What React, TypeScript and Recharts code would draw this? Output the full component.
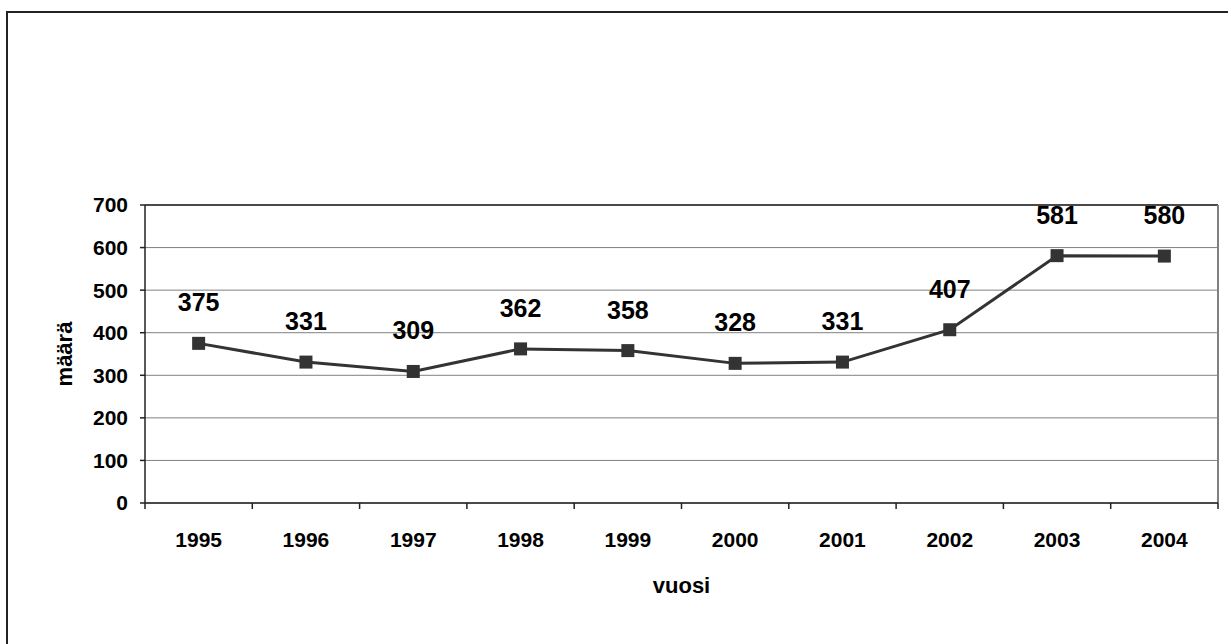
import React from "react";
import {
  LineChart,
  Line,
  XAxis,
  YAxis,
  CartesianGrid,
  ReferenceLine,
  LabelList,
  Label,
} from "recharts";

const years = ["1995", "1996", "1997", "1998", "1999", "2000", "2001", "2002", "2003", "2004"];
const counts = [375, 331, 309, 362, 358, 328, 331, 407, 581, 580];
const yTicks = [0, 100, 200, 300, 400, 500, 600, 700];

const FONT = '"Liberation Sans", Arial, sans-serif';

// points sit in the middle of each year slot, tick marks on the slot edges
const data = years.map((year, i) => ({ x: i + 0.5, year, value: counts[i] }));
const xTicks: number[] = [];
for (let i = 0; i <= years.length * 2; i++) xTicks.push(i / 2);

function XTick(props: any) {
  const { x, y, payload } = props;
  const v = payload.value as number;
  if (Number.isInteger(v)) {
    return <line x1={x} y1={y} x2={x} y2={y + 6} stroke="#222" strokeWidth={1.5} />;
  }
  const year = years[Math.floor(v)];
  return (
    <text
      x={x}
      y={y + 36}
      textAnchor="middle"
      dominantBaseline="central"
      fontFamily={FONT}
      fontWeight="bold"
      fontSize={21}
      fill="#000"
    >
      {year}
    </text>
  );
}

function SquareDot(props: any) {
  const { cx, cy, index } = props;
  if (cx == null || cy == null) return null;
  return <rect key={index} x={cx - 6.5} y={cy - 6.5} width={13} height={13} fill="#333" />;
}

function ValueLabel(props: any) {
  const { x, y, value } = props;
  return (
    <text
      x={x}
      y={y - 41}
      textAnchor="middle"
      dominantBaseline="central"
      fontFamily={FONT}
      fontWeight="bold"
      fontSize={25}
      fill="#000"
    >
      {value}
    </text>
  );
}

export default function App() {
  return (
    <div
      style={{
        position: "fixed",
        top: 0,
        left: 0,
        width: 1228,
        height: 644,
        overflow: "hidden",
        background: "#fff",
      }}
    >
      <div
        style={{
          position: "absolute",
          left: 6,
          top: 11,
          width: 1300,
          height: 700,
          borderTop: "2px solid #222",
          borderLeft: "2px solid #222",
        }}
      />
      <div style={{ position: "absolute", left: 0, top: 0 }}>
        <LineChart
          width={1228}
          height={644}
          data={data}
          margin={{ top: 205, right: 10, left: 0, bottom: 41 }}
        >
          <CartesianGrid vertical={false} stroke="#808080" strokeWidth={1} />
          <XAxis
            dataKey="x"
            type="number"
            domain={[0, 10]}
            ticks={xTicks}
            interval={0}
            height={100}
            tickSize={0}
            tickMargin={0}
            tickLine={false}
            axisLine={{ stroke: "#222", strokeWidth: 1.5 }}
            tick={<XTick />}
          >
            <Label
              content={({ viewBox }: any) => (
                <text
                  x={viewBox.x + viewBox.width / 2}
                  y={viewBox.y + 82}
                  textAnchor="middle"
                  dominantBaseline="central"
                  fontFamily={FONT}
                  fontWeight="bold"
                  fontSize={22}
                  fill="#000"
                >
                  vuosi
                </text>
              )}
            />
          </XAxis>
          <YAxis
            type="number"
            domain={[0, 700]}
            ticks={yTicks}
            interval={0}
            width={145}
            tickSize={5}
            tickMargin={12}
            tickLine={{ stroke: "#222", strokeWidth: 1.5 }}
            axisLine={{ stroke: "#222", strokeWidth: 1.5 }}
            tick={{ fill: "#000", fontFamily: FONT, fontWeight: "bold", fontSize: 21 }}
          >
            <Label
              content={({ viewBox }: any) => {
                const cx = 64;
                const cy = viewBox.y + viewBox.height / 2;
                return (
                  <text
                    x={cx}
                    y={cy}
                    transform={`rotate(-90, ${cx}, ${cy})`}
                    textAnchor="middle"
                    dominantBaseline="central"
                    fontFamily={FONT}
                    fontWeight="bold"
                    fontSize={22}
                    fill="#000"
                  >
                    määrä
                  </text>
                );
              }}
            />
          </YAxis>
          <ReferenceLine y={700} stroke="#222" strokeWidth={1.5} />
          <ReferenceLine x={10} stroke="#808080" strokeWidth={2} />
          <Line
            type="linear"
            dataKey="value"
            stroke="#333"
            strokeWidth={3}
            dot={<SquareDot />}
            activeDot={false}
            isAnimationActive={false}
          >
            <LabelList dataKey="value" content={<ValueLabel />} />
          </Line>
        </LineChart>
      </div>
    </div>
  );
}
